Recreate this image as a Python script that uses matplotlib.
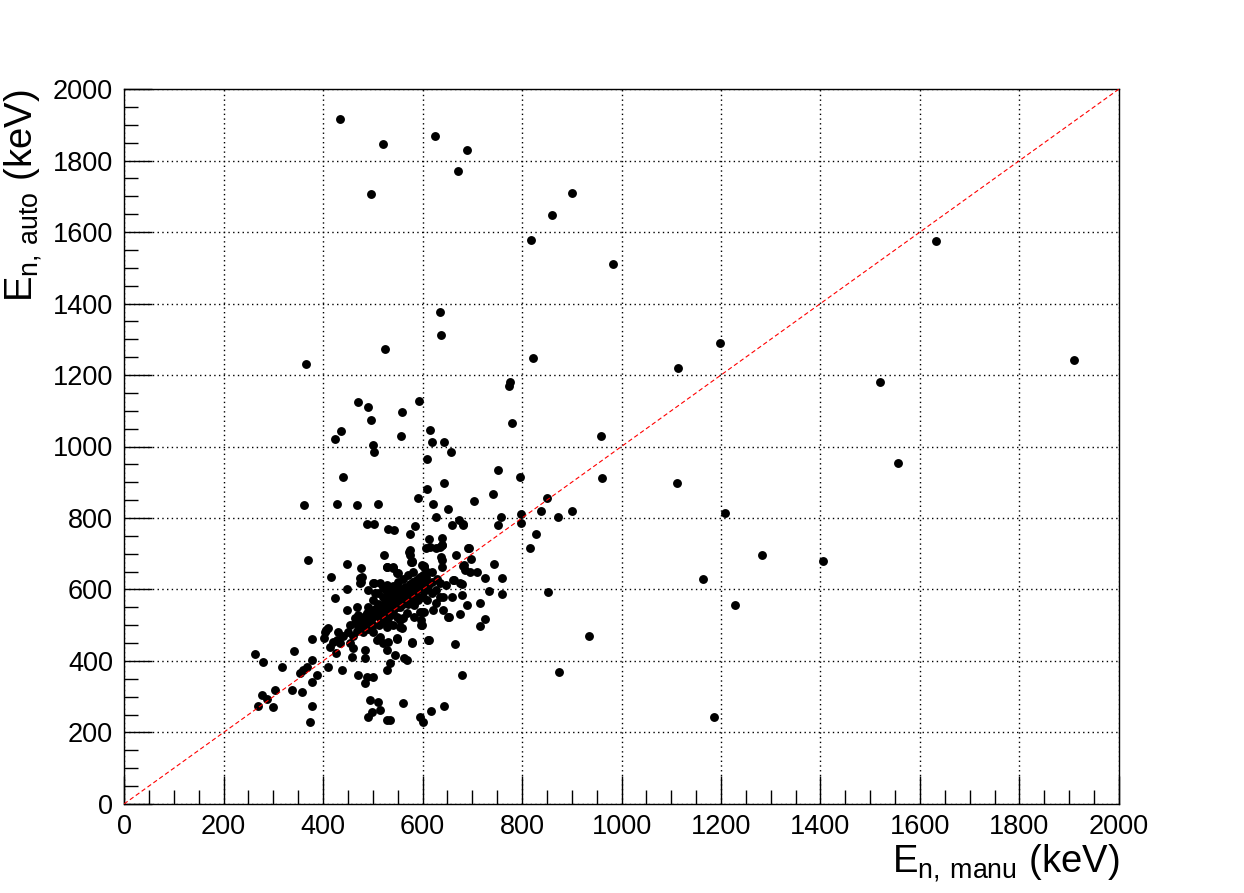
import matplotlib.pyplot as plt
import numpy as np

plt.rcParams['font.family'] = ['Liberation Sans', 'DejaVu Sans']
plt.rcParams['mathtext.fontset'] = 'custom'
plt.rcParams['mathtext.rm'] = 'Liberation Sans'

# E_n manual vs auto (keV)
# outliers, top part
x_top = [435, 520, 625, 690, 497, 672, 900, 860, 818, 982, 1632, 636, 637, 524, 365,
         822, 1197, 1113, 1910, 1520]
y_top = [1915, 1845, 1870, 1830, 1705, 1770, 1710, 1648, 1578, 1510, 1575, 1375, 1313, 1273, 1230,
         1248, 1290, 1220, 1242, 1180]

# points between 850 and 1200 keV, plus the far right ones
x_mid = [470, 490, 497, 437, 425, 559, 592, 556, 500, 502, 616, 619, 644, 657, 610,
         958, 961, 1112, 1555, 1208, 1163, 1228, 1283, 1405, 1185, 935, 874, 852,
         773, 776, 779, 751, 795, 741, 704, 850, 838, 798, 757, 681, 751, 798, 829,
         816, 901, 873, 694, 697, 744, 683, 362, 428, 468, 510, 440, 488, 503, 530]
y_mid = [1125, 1110, 1075, 1042, 1020, 1097, 1128, 1029, 1005, 985, 1046, 1012, 1012, 985, 964,
         1029, 911, 898, 955, 815, 630, 557, 697, 680, 243, 470, 369, 592,
         1169, 1180, 1065, 934, 916, 867, 848, 855, 820, 810, 803, 782, 780, 785, 754,
         715, 820, 802, 715, 684, 670, 669, 835, 838, 835, 840, 915, 782, 782, 768]

# upper edge of the main cluster
x_up = [644, 610, 590, 622, 651, 628, 673, 660, 682, 585, 543, 575, 613, 639, 608, 628,
        639, 575, 523, 575, 667, 639, 578, 691, 528, 541, 602]
y_up = [897, 880, 855, 838, 824, 804, 794, 780, 780, 778, 766, 755, 740, 743, 715, 715,
        724, 710, 697, 697, 697, 683, 680, 715, 664, 664, 666]

# main cluster
x_core = [682, 695, 710, 726, 760, 663, 679, 734, 760, 679, 716, 689, 642, 635, 675, 654,
          726, 716, 665, 679, 613, 578, 548, 597, 597, 558, 568, 535, 561, 618, 644, 594,
          600, 535, 573, 576, 580, 615, 635, 602, 608, 639, 637, 640, 541, 551, 628, 642,
          622, 595, 602, 565, 588, 575, 582, 548, 535, 555, 647,
          370, 449, 417, 449, 474, 474, 491, 501, 528, 548, 424, 449, 468, 464, 488, 377,
          404, 410, 431, 428, 401, 414, 434, 454, 427, 458, 484, 484, 461, 508, 521, 531,
          548, 263, 280, 317, 342, 377, 367, 360, 354, 387, 377, 411, 438, 471, 484, 488,
          501, 528, 277, 287, 270, 300, 304, 337, 357, 377, 374, 494, 511, 498, 491, 515,
          528, 476, 478, 476, 503, 515, 528, 407, 421,
          578, 598, 602, 685, 662, 675, 628, 635, 659, 652, 598, 598, 578, 612, 521, 541,
          562, 575, 582, 555, 535, 528, 548, 568, 582, 528, 555, 515, 545, 528, 562,
          490, 500, 510, 520, 530, 540, 550, 560, 570, 580, 590, 600, 610, 620, 500, 510,
          520, 530, 540, 550, 560, 570, 580, 590, 600, 610, 620, 470, 480, 490, 460, 450,
          440, 500, 510, 490, 480, 470, 520, 530, 540, 560, 570, 590, 600, 610, 620, 630,
          560, 545]
y_core = [666, 648, 649, 631, 631, 627, 614, 597, 587, 585, 561, 557, 580, 617, 531, 522,
          517, 499, 448, 361, 459, 451, 461, 501, 515, 491, 403, 395, 283, 260, 274, 244,
          228, 235, 706, 678, 650, 720, 720, 664, 636, 664, 692, 724, 659, 645, 561, 543,
          543, 538, 538, 608, 608, 571, 557, 552, 528, 515, 613,
          683, 671, 636, 601, 631, 617, 599, 617, 664, 645, 575, 543, 552, 519, 533, 462,
          482, 491, 482, 459, 463, 440, 449, 449, 421, 412, 431, 408, 436, 459, 449, 454,
          463, 420, 396, 384, 429, 403, 384, 375, 366, 361, 342, 384, 375, 361, 338, 356,
          356, 375, 305, 295, 275, 272, 319, 319, 312, 275, 230, 291, 286, 258, 244, 263,
          235, 659, 636, 622, 619, 617, 613, 487, 454,
          678, 669, 641, 655, 627, 617, 599, 580, 580, 524, 538, 501, 454, 459, 608, 599,
          589, 580, 561, 552, 571, 533, 524, 533, 524, 496, 496, 468, 417, 431, 408,
          520, 540, 560, 580, 590, 610, 620, 630, 640, 620, 600, 580, 600, 620, 500, 530,
          550, 560, 540, 580, 560, 600, 590, 630, 610, 570, 590, 500, 480, 490, 470, 480,
          470, 570, 590, 550, 520, 530, 520, 510, 500, 520, 560, 570, 640, 650, 650, 630,
          600, 595]

# densest part of the cluster, along the diagonal
x_dense = [465, 475, 485, 495, 505, 515, 525, 535, 545, 555, 565, 575, 585, 595, 605,
           478, 488, 498, 508, 518, 528, 538, 548, 558, 568, 578, 588, 598,
           455, 468, 512, 522, 532, 542, 552, 562, 572, 582, 592, 602, 612, 500, 515,
           535, 555, 575, 595, 485, 505, 525]
y_dense = [505, 515, 525, 535, 545, 555, 565, 575, 585, 595, 605, 615, 625, 635, 625,
           495, 510, 520, 530, 540, 550, 560, 570, 580, 590, 600, 610, 620,
           500, 485, 500, 510, 525, 550, 565, 575, 585, 565, 580, 595, 610, 480, 520,
           545, 600, 595, 605, 505, 590, 600]

x_all = x_top + x_mid + x_up + x_core + x_dense
y_all = y_top + y_mid + y_up + y_core + y_dense

fig = plt.figure(figsize=(12.44, 8.93), dpi=100)
ax = fig.add_axes([0.0997, 0.0997, 0.7998, 0.8006])

ax.plot(x_all, y_all, 'o', color='black', ms=6.4, mew=0, zorder=3)
ax.plot([0, 2000], [0, 2000], color='red', lw=0.8, ls=(0, (4, 2.5)), zorder=4)

ax.set_xlim(0, 2000)
ax.set_ylim(0, 2000)
ax.set_xticks(np.arange(0, 2001, 200))
ax.set_yticks(np.arange(0, 2001, 200))
ax.set_xticks(np.arange(0, 2001, 50), minor=True)
ax.set_yticks(np.arange(0, 2001, 50), minor=True)
ax.tick_params(which='both', direction='in', top=False, right=False,
               labelsize=19.5, color='black', width=1)
ax.tick_params(which='major', length=20)
ax.tick_params(which='minor', length=10)
ax.tick_params(axis='x', pad=7)
ax.tick_params(axis='y', pad=8)
ax.grid(True, which='major', color='black', lw=1.0, ls=(0, (1, 2.4)))
for s in ax.spines.values():
    s.set_linewidth(1)

fig.text(0.8995, 0.0235, r'$\mathregular{E_{n,\,manu}}$ (keV)', ha='right', va='baseline',
         fontsize=27.5)
fig.text(0.0015, 0.9003, r'$\mathregular{E_{n,\,auto}}$ (keV)', ha='left', va='top',
         fontsize=27.5, rotation=90)

fig.savefig('out.png', dpi=100)
